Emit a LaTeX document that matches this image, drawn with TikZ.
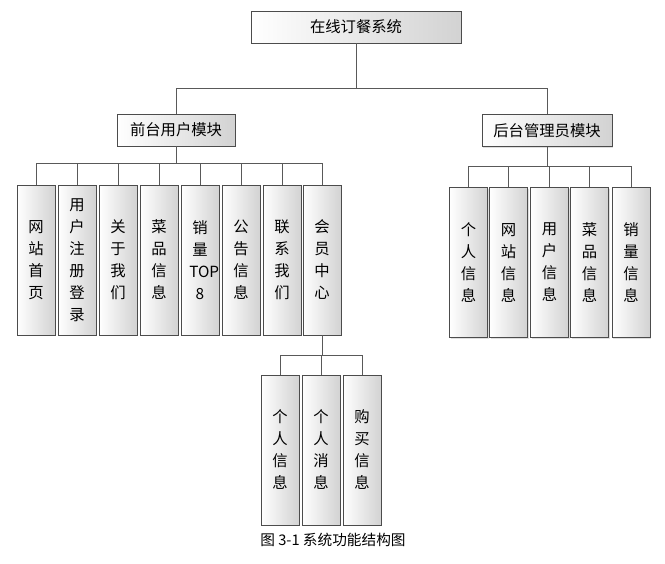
\documentclass[tikz,border=0pt]{standalone}
\usepackage{fontspec}
\setmainfont{Noto Sans CJK SC}
\usetikzlibrary{positioning,shadows}

\begin{document}
\begin{tikzpicture}
	[   x=0.75pt,y=-0.75pt,
		mbox/.style={draw=gray!60!black,left color=white,right color=gray!35,
			drop shadow={shadow xshift=1pt,shadow yshift=-1pt,fill=gray!50},
			inner sep=1pt,font=\fontsize{11.5}{16.5}\selectfont,align=center},
		tbox/.style={mbox,minimum width=28.5pt,minimum height=112.5pt,text width=16pt},
	]
	\tikzset{bus line/.style={draw=gray!70!black,line width=0.6pt}}
	\useasboundingbox (0,0) rectangle (665,564);
	
	\node[mbox,minimum width=157.5pt,minimum height=24pt] (root) at (356,27) {在线订餐系统};
	\node[mbox,minimum width=88.5pt,minimum height=24pt] (front) at (176,130) {前台用户模块};
	\node[mbox,minimum width=97.5pt,minimum height=24pt] (back) at (547,130.5) {后台管理员模块};
	
	% front children
	\foreach \x/\t [count=\i] in {36/网\\站\\首\\页, 77/用\\户\\注\\册\\登\\录, 118/关\\于\\我\\们,
		159/菜\\品\\信\\息, 200/销\\量\\TOP\\8, 241/公\\告\\信\\息, 282/联\\系\\我\\们, 322/会\\员\\中\\心}
	{
		\node[tbox] (f-\i) at (\x,260) {\t};
		\path[bus line] (front.south) -- ++(0,17) -| (f-\i.north);
	}
	
	% back children
	\foreach \x/\t [count=\i] in {468.5/个\\人\\信\\息, 508.5/网\\站\\信\\息, 549.5/用\\户\\信\\息,
		589.5/菜\\品\\信\\息, 631/销\\量\\信\\息}
	{
		\node[tbox] (b-\i) at (\x,262.5) {\t};
		\path[bus line] (back.south) -- ++(0,20) -| (b-\i.north);
	}
	
	% member centre
	\foreach \x/\t [count=\i] in {280/个\\人\\信\\息, 321/个\\人\\消\\息, 362/购\\买\\信\\息}
	{
		\node[tbox] (m-\i) at (\x,450) {\t};
		\path[bus line] (f-8.south) -- ++(0,20) -| (m-\i.north);
	}
	
	\path[bus line] (root.south) -- ++(0,45) -| (front.north);
	\path[bus line] (root.south) -- ++(0,45) -| (back.north);
	
	\node[font=\fontsize{11}{12}\selectfont] (cap) at (333,540) {图 3-1 系统功能结构图};
\end{tikzpicture}
\end{document}
